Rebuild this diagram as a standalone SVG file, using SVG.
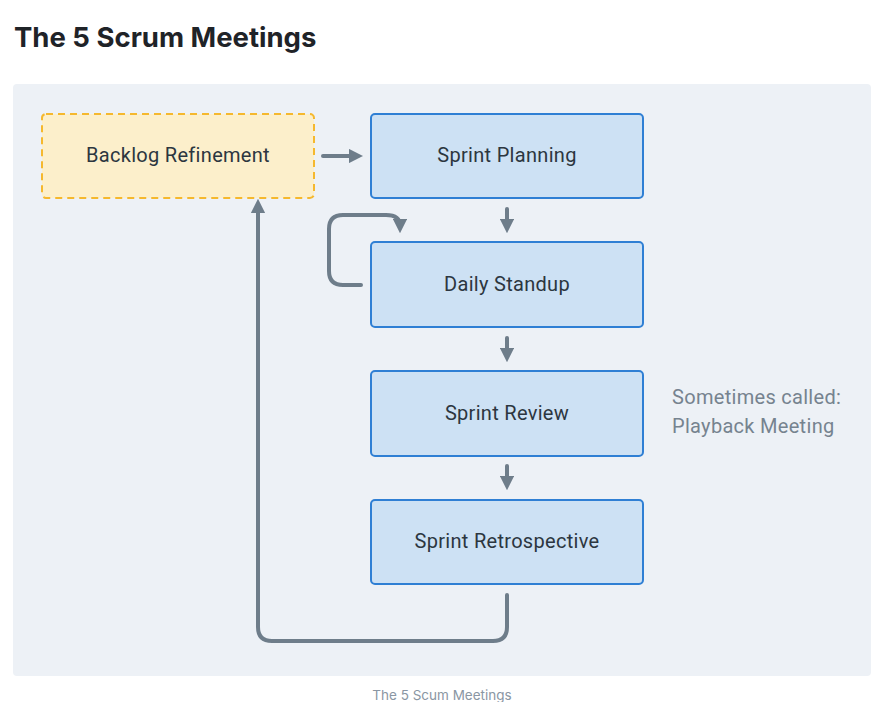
<svg xmlns="http://www.w3.org/2000/svg" width="889" height="702" viewBox="0 0 889 702">
  <style>
    .title { font-family: Inter, "Liberation Sans", sans-serif; font-weight: 700; font-size: 27.5px; fill: #1f2328; }
    .node rect { fill: #cde1f4; stroke: #2f7fd4; stroke-width: 2; }
    .node.dashed rect { fill: #fcefcb; stroke: #f5b82e; stroke-dasharray: 7 5; }
    .label { font-family: Roboto, "Liberation Sans", sans-serif; font-size: 20px; letter-spacing: 0.3px; fill: #2c3640; text-anchor: middle; }
    .note { font-family: Roboto, "Liberation Sans", sans-serif; font-size: 20px; letter-spacing: 0.3px; fill: #76838f; }
    .caption { font-family: Inter, "Liberation Sans", sans-serif; font-size: 13.5px; fill: #8a96a3; text-anchor: middle; }
    .edge { fill: none; stroke: #6e7d8a; stroke-width: 4; stroke-linecap: round; }
  </style>
  <defs>
    <marker id="head" viewBox="0 0 10 10" refX="5" refY="5" markerWidth="3.6" markerHeight="3.6" markerUnits="strokeWidth" orient="auto">
      <path d="M0,0 L10,5 L0,10 Z" fill="#6e7d8a"/>
    </marker>
  </defs>

  <rect width="889" height="702" fill="#ffffff"/>
  <text class="title" x="14" y="47">The 5 Scrum Meetings</text>
  <rect x="13" y="84" width="858" height="592" rx="4" fill="#edf1f6"/>

  <g id="connectors">
    <path class="edge" d="M323,156 H356" marker-end="url(#head)"/>
    <path class="edge" d="M507,209 V226" marker-end="url(#head)"/>
    <path class="edge" d="M507,338 V355" marker-end="url(#head)"/>
    <path class="edge" d="M507,466 V483" marker-end="url(#head)"/>
    <path class="edge" d="M361,285 H343 Q329,285 329,271 V229 Q329,215 343,215 H386 Q400,215 400,226" marker-end="url(#head)"/>
    <path class="edge" d="M507,595 V627 Q507,641 493,641 H272 Q258,641 258,627 V206" marker-end="url(#head)"/>
  </g>

  <g id="backlog-refinement" class="node dashed">
    <rect x="42" y="114" width="272" height="84" rx="4"/>
    <text class="label" x="178" y="162">Backlog Refinement</text>
  </g>
  <g id="sprint-planning" class="node">
    <rect x="371" y="114" width="272" height="84" rx="4"/>
    <text class="label" x="507" y="162">Sprint Planning</text>
  </g>
  <g id="daily-standup" class="node">
    <rect x="371" y="242" width="272" height="85" rx="4"/>
    <text class="label" x="507" y="291">Daily Standup</text>
  </g>
  <g id="sprint-review" class="node">
    <rect x="371" y="371" width="272" height="85" rx="4"/>
    <text class="label" x="507" y="420">Sprint Review</text>
  </g>
  <g id="sprint-retrospective" class="node">
    <rect x="371" y="500" width="272" height="84" rx="4"/>
    <text class="label" x="507" y="548">Sprint Retrospective</text>
  </g>

  <g id="review-note">
    <text class="note" x="672" y="404">Sometimes called:</text>
    <text class="note" x="672" y="433">Playback Meeting</text>
  </g>

  <text class="caption" x="442" y="700">The 5 Scum Meetings</text>
</svg>
